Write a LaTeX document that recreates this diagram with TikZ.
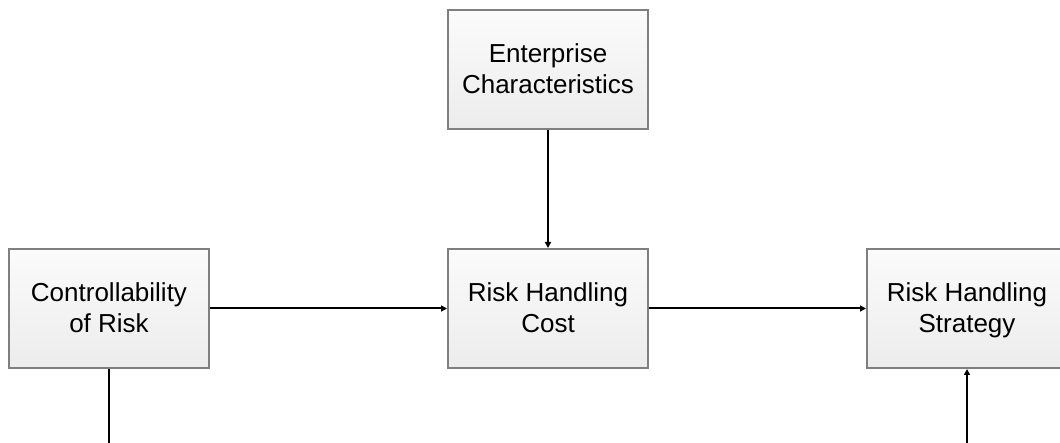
\documentclass[tikz,border=0pt]{standalone}
\usepackage{fontspec}
\setmainfont{Liberation Sans}
\usetikzlibrary{arrows.meta}
\definecolor{boxline}{HTML}{7F7F7F}
\definecolor{boxtop}{HTML}{FBFBFB}
\definecolor{boxbottom}{HTML}{ECECEC}
% fixed height and depth on the last line so every two-line label sits alike
\newcommand{\lastline}[1]{\smash{#1}\rule[-1.5pt]{0pt}{19pt}}
\tikzset{
  block/.style={draw=boxline, line width=2pt, top color=boxtop, bottom color=boxbottom,
    minimum width=200pt, minimum height=119pt, inner sep=0pt, align=center,
    font=\fontsize{26pt}{31pt}\selectfont},
  link/.style={line width=2pt, -{Triangle[length=6pt,width=6pt]}},
  plain/.style={line width=2pt}
}
\begin{document}
\begin{tikzpicture}[x=1pt,y=-1pt]
\useasboundingbox (0,0) rectangle (1060,443);
\clip (0,0) rectangle (1060,443);
\node[block] (ent) at (548,69.5) {Enterprise\\\lastline{Characteristics}};
\node[block] (ctrl) at (109,308.5) {Controllability\\\lastline{of Risk}};
\node[block] (cost) at (548,308.5) {Risk Handling\\\lastline{Cost}};
\node[block] (strat) at (967,308.5) {Risk Handling\\\lastline{Strategy}};
\coordinate (ctrlend) at (109,450);
\coordinate (stratstart) at (967,450);
\draw[link] (ent) -- (cost);
\draw[link] (ctrl) -- (cost);
\draw[link] (cost) -- (strat);
\draw[plain] (ctrl) -- (ctrlend);
\draw[link] (stratstart) -- (strat);
\end{tikzpicture}
\end{document}
